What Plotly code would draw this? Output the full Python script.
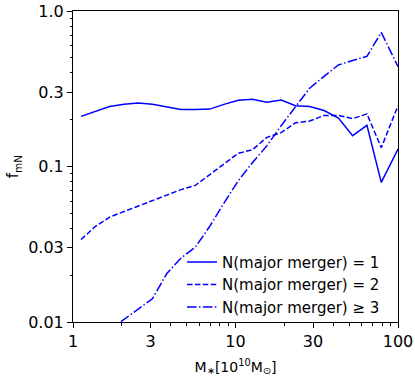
import plotly.graph_objects as go

mass = [1.12, 1.37, 1.68, 2.06, 2.52, 3.08, 3.78, 4.62, 5.66, 6.93, 8.49, 10.4,
        12.7, 15.6, 19.1, 23.4, 28.6, 35.1, 43.0, 52.6, 64.4, 78.9, 100.0]

f_n1 = [0.210, 0.226, 0.243, 0.251, 0.256, 0.251, 0.243, 0.233, 0.233, 0.234, 0.251, 0.267,
        0.271, 0.259, 0.268, 0.246, 0.243, 0.229, 0.205, 0.158, 0.184, 0.0791, 0.1295]

f_n2 = [0.0339, 0.0411, 0.0473, 0.0513, 0.0560, 0.0603, 0.0659, 0.0710, 0.0756, 0.0886, 0.1042, 0.1217,
        0.128, 0.154, 0.165, 0.191, 0.196, 0.213, 0.213, 0.203, 0.218, 0.132, 0.246]

f_n3 = [None, 0.00762, 0.00887, 0.01038, 0.0121, 0.0141, 0.0205, 0.0258, 0.0303, 0.0411, 0.0581, 0.0811,
        0.1057, 0.136, 0.183, 0.240, 0.319, 0.380, 0.450, 0.481, 0.511, 0.728, 0.439]

labels = ["N(major merger) = 1", "N(major merger) = 2", "N(major merger) \u2265 3"]
dashes = ["solid", "5.5px,2.4px", "9.6px,2.4px,1.5px,2.4px"]

x_ticks = [1, 3, 10, 30, 100]
x_ticktext = ["1", "3", "10", "30", "100"]
y_ticks = [0.01, 0.03, 0.1, 0.3, 1.0]
y_ticktext = ["0.01", "0.03", "0.1", "0.3", "1.0"]

x_minor = [2, 4, 5, 6, 7, 8, 9, 20, 40, 50, 60, 70, 80, 90]
y_minor = [0.02, 0.04, 0.05, 0.06, 0.07, 0.08, 0.09,
           0.2, 0.4, 0.5, 0.6, 0.7, 0.8, 0.9]

fig = go.Figure()
for ys, lab, d in zip([f_n1, f_n2, f_n3], labels, dashes):
    fig.add_trace(go.Scatter(x=mass, y=ys, mode="lines", name=lab,
                             line=dict(color="#0000ff", width=1.5, dash=d)))

axis_common = dict(
    showline=True, linecolor="black", linewidth=1, mirror=True,
    ticks="outside", ticklen=5, tickwidth=1, tickcolor="black",
    showgrid=False, zeroline=False, automargin=False,
    ticklabeloverflow="allow",
    tickfont=dict(family="DejaVu Sans", size=16, color="black"),
)

fig.update_xaxes(type="log", range=[0, 2], tickmode="array", tickvals=x_ticks,
                 ticktext=x_ticktext,
                 minor=dict(tickmode="array", tickvals=x_minor, ticks="outside",
                            ticklen=2.5, tickwidth=0.8, tickcolor="black", showgrid=False),
                 title=dict(text="M<sub>\u2217</sub>[10<sup>10</sup>M<sub>\u2299</sub>]",
                            font=dict(family="DejaVu Sans", size=14, color="black"),
                            standoff=11),
                 **axis_common)
fig.update_yaxes(type="log", range=[-2, 0], tickmode="array", tickvals=y_ticks,
                 ticktext=y_ticktext,
                 minor=dict(tickmode="array", tickvals=y_minor, ticks="outside",
                            ticklen=2.5, tickwidth=0.8, tickcolor="black", showgrid=False),
                 title=dict(text="f<sub>mN</sub>",
                            font=dict(family="DejaVu Sans", size=15, color="black"),
                            standoff=5),
                 **axis_common)

fig.update_layout(
    width=415, height=380,
    margin=dict(l=73, r=17, t=11, b=58, autoexpand=False),
    paper_bgcolor="white", plot_bgcolor="white",
    font=dict(family="DejaVu Sans", color="black"),
    legend=dict(x=0.96, y=-0.006, xanchor="right", yanchor="bottom",
                bgcolor="rgba(0,0,0,0)", borderwidth=0,
                font=dict(family="DejaVu Sans", size=15, color="black"),
                tracegroupgap=0),
    showlegend=True,
)

# remove the default 8 px page margin so the 415x380 figure fills the window
fig.write_html("out.html", config={"displayModeBar": False},
               post_script="document.body.style.margin='0';")
